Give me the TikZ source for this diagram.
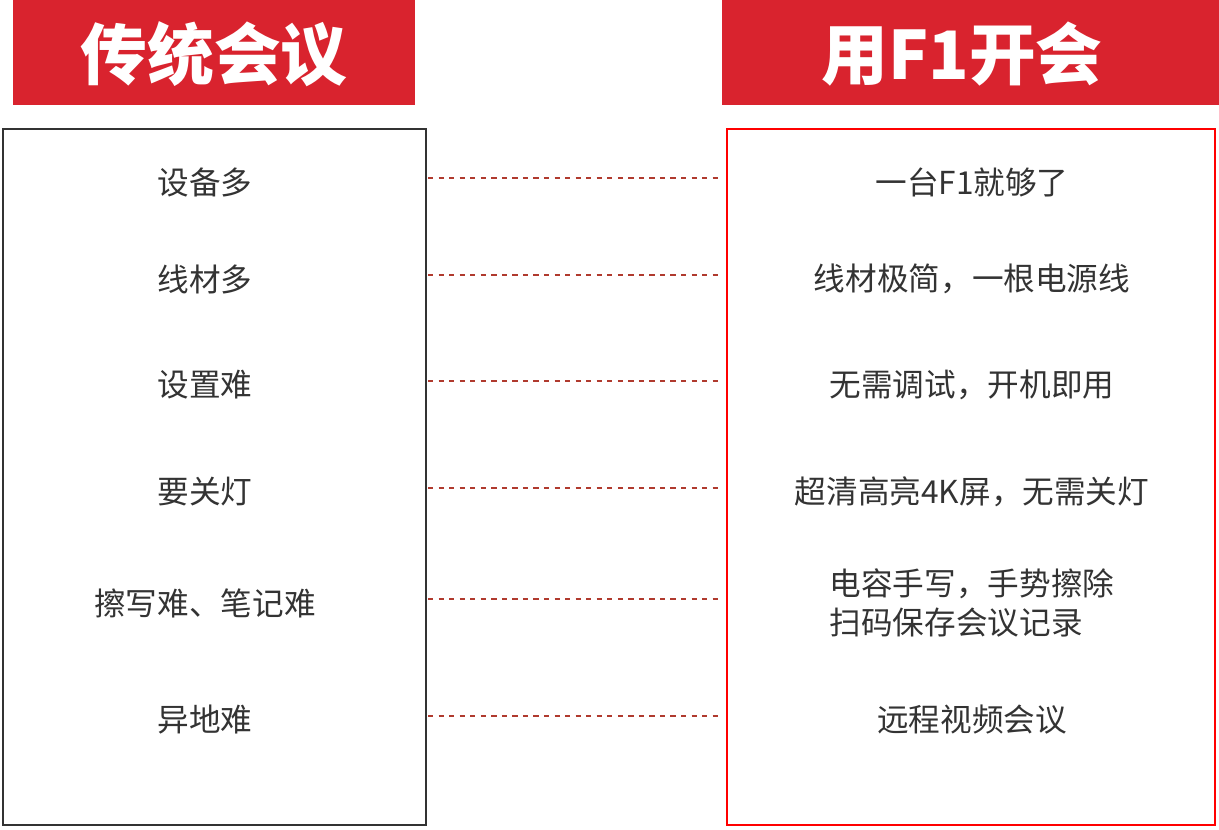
\documentclass[tikz,border=0pt]{standalone}
\usepackage{fontspec}
\newfontfamily\cjk{Noto Sans CJK SC}
\definecolor{hred}{HTML}{D9232E}
\definecolor{txt}{HTML}{333333}
\definecolor{dash}{HTML}{B03A2E}
\begin{document}
\begin{tikzpicture}[x=0.02cm,y=-0.02cm,
  hdr/.style={fill=hred,draw=none},
  htext/.style={text=white,font=\cjk\bfseries\fontsize{38}{44}\selectfont},
  item/.style={text=txt,font=\cjk\fontsize{18}{22}\selectfont,align=left},
  link/.style={draw=dash,dashed,line width=0.8pt}]
\useasboundingbox (0,0) rectangle (1219,829);
\fill[hred] (13,0) rectangle (415,105);
\fill[hred] (722,0) rectangle (1219,105);
\node[htext] (h1) at (214,54) {传统会议};
\node[htext] (h2) at (962,54) {用F1开会};
\draw[txt,line width=1.5pt] (3,129) rectangle (426,825);
\draw[red,line width=1.5pt] (727,129) rectangle (1215,825);
\foreach \y/\a/\b [count=\i] in {
 182/设备多/一台F1就够了,
 279/线材多/线材极简，一根电源线,
 385/设置难/无需调试，开机即用,
 492/要关灯/超清高亮4K屏，无需关灯,
 603/擦写难、笔记难/{电容手写，手势擦除\\扫码保存会议记录},
 720/异地难/远程视频会议}{
 \node[item] (l\i) at (205,\y) {\a};
 \node[item] (r\i) at (972,\y) {\b};
 \coordinate (la\i) at (428,\y-4);
 \coordinate (ra\i) at (722,\y-4);
 \draw[link] (la\i) -- (ra\i);
}
\end{tikzpicture}
\end{document}
